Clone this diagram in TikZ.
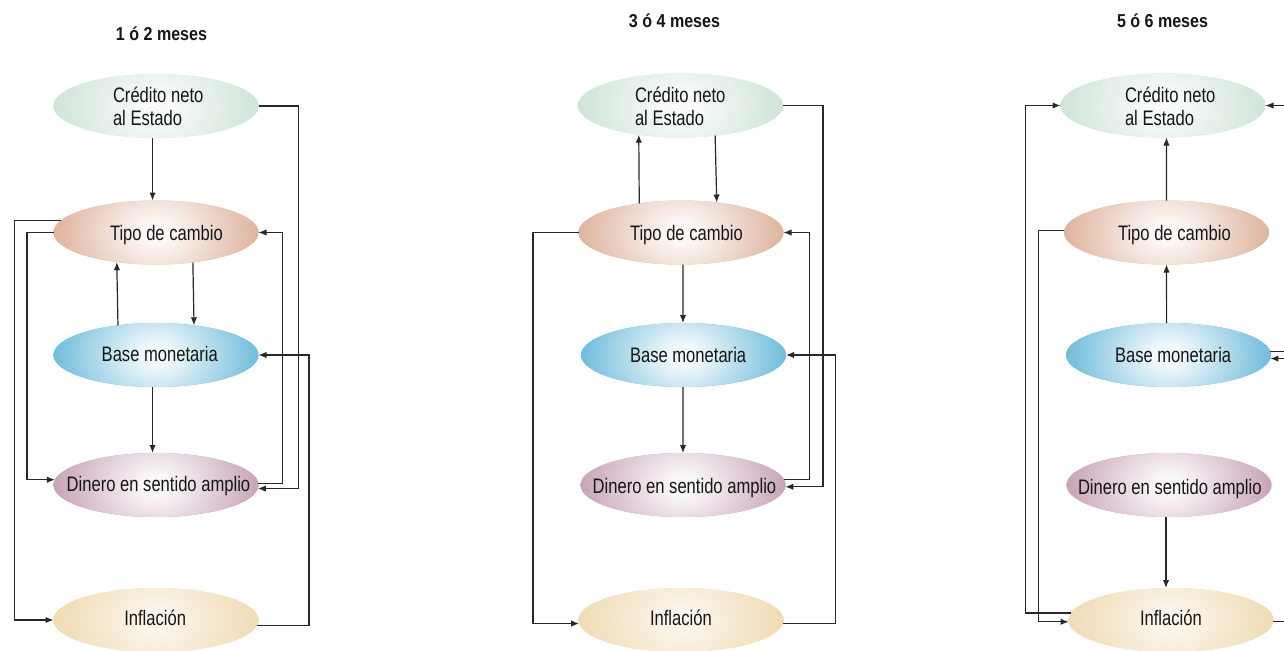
\documentclass[tikz,border=0pt]{standalone}
\usepackage{fontspec}
\setmainfont{Liberation Sans}[FakeStretch=0.79]
\newfontfamily\titlefont{Liberation Sans}[FakeStretch=0.86]
\usetikzlibrary{shapes.geometric,arrows.meta}
\definecolor{colC}{RGB}{200,224,210}
\definecolor{colT}{RGB}{217,168,142}
\definecolor{colB}{RGB}{90,178,213}
\definecolor{colD}{RGB}{191,150,172}
\definecolor{colI}{RGB}{238,215,170}
\colorlet{inC}{colC!12!white}
\colorlet{inT}{colT!8!white}
\colorlet{inB}{colB!8!white}
\colorlet{inD}{colD!8!white}
\colorlet{inI}{colI!25!white}
\definecolor{lncol}{RGB}{40,40,40}
\definecolor{txtcol}{RGB}{22,22,22}
\pgfdeclareradialshading{shC}{\pgfpoint{0bp}{0bp}}{color(0bp)=(inC); color(3bp)=(inC); color(25bp)=(colC); color(50bp)=(colC)}
\pgfdeclareradialshading{shT}{\pgfpoint{0bp}{0bp}}{color(0bp)=(inT); color(3bp)=(inT); color(25bp)=(colT); color(50bp)=(colT)}
\pgfdeclareradialshading{shB}{\pgfpoint{0bp}{0bp}}{color(0bp)=(inB); color(3bp)=(inB); color(25bp)=(colB); color(50bp)=(colB)}
\pgfdeclareradialshading{shD}{\pgfpoint{0bp}{0bp}}{color(0bp)=(inD); color(3bp)=(inD); color(25bp)=(colD); color(50bp)=(colD)}
\pgfdeclareradialshading{shI}{\pgfpoint{0bp}{0bp}}{color(0bp)=(inI); color(3bp)=(inI); color(25bp)=(colI); color(50bp)=(colI)}
\begin{document}
\begin{tikzpicture}[x=0.75pt,y=-0.75pt,
  ell/.style={ellipse, minimum width=153.75pt, minimum height=48pt, inner sep=0pt, outer sep=0pt,
    fill=col#1,
    path picture={\shade[shading=sh#1] (path picture bounding box.center) ellipse [x radius=88pt, y radius=66pt];}},
  lbl/.style={anchor=base west, inner sep=0pt, outer sep=0pt, text=txtcol, font=\fontsize{15.75pt}{19pt}\selectfont},
  ttl/.style={anchor=base, inner sep=0pt, outer sep=0pt, text=txtcol, font=\titlefont\bfseries\fontsize{14pt}{17pt}\selectfont},
  arr/.style={draw=lncol, line width=0.9pt, -{Latex[length=6pt,width=4.8pt]}}]
\useasboundingbox (0,0) rectangle (1284,650);
\clip (0,0) rectangle (1284,650);
\fill[white] (0,0) rectangle (1284,650);

% titles
\node[ttl] (h1) at (161.5,40) {1 ó 2 meses};
\node[ttl] (h2) at (674.5,27) {3 ó 4 meses};
\node[ttl] (h3) at (1162.5,27) {5 ó 6 meses};

% panel 1
\node[ell=C] (C1) at (156,106) {};
\node[ell=T] (T1) at (156,232.5) {};
\node[ell=B] (B1) at (156,355) {};
\node[ell=D] (D1) at (156,485) {};
\node[ell=I] (I1) at (156,620) {};
\node[lbl] (C1a) at (113,102) {Crédito neto};
\node[lbl] (C1b) at (113,125) {al Estado};
\node[lbl] (T1t) at (110,240) {Tipo de cambio};
\node[lbl] (B1t) at (101.7,361) {Base monetaria};
\node[lbl] (D1t) at (66.7,491) {Dinero en sentido amplio};
\node[lbl] (I1t) at (124.3,625) {Inflación};

% panel 2
\node[ell=C] (C2) at (680.5,105.5) {};
\node[ell=T] (T2) at (681,232.5) {};
\node[ell=B] (B2) at (683.5,355) {};
\node[ell=D] (D2) at (683,485) {};
\node[ell=I] (I2) at (681,620) {};
\node[lbl] (C2a) at (635,102) {Crédito neto};
\node[lbl] (C2b) at (635,125) {al Estado};
\node[lbl] (T2t) at (630,240) {Tipo de cambio};
\node[lbl] (B2t) at (630,362.5) {Base monetaria};
\node[lbl] (D2t) at (592.7,493) {Dinero en sentido amplio};
\node[lbl] (I2t) at (650,625) {Inflación};

% panel 3
\node[ell=C] (C3) at (1163,105.5) {};
\node[ell=T] (T3) at (1166.5,232.5) {};
\node[ell=B] (B3) at (1168.5,355) {};
\node[ell=D] (D3) at (1169,485) {};
\node[ell=I] (I3) at (1171,620) {};
\node[lbl] (C3a) at (1125,102) {Crédito neto};
\node[lbl] (C3b) at (1125,125) {al Estado};
\node[lbl] (T3t) at (1118,240) {Tipo de cambio};
\node[lbl] (B3t) at (1115,362.5) {Base monetaria};
\node[lbl] (D3t) at (1078,494) {Dinero en sentido amplio};
\node[lbl] (I3t) at (1140,625) {Inflación};

% connectors panel 1
\draw[arr] ([xshift=-2.6pt]C1.south) -- ([xshift=-2.6pt]T1.north);
\draw[arr] (B1.142.8) -- (T1.217.2);
\draw[arr] (T1.321.1) -- (B1.38.9);
\draw[arr] ([xshift=-2.6pt]B1.south) -- ([xshift=-2.6pt]D1.north);
\draw[arr] (C1.east) -- ++(40,0) |- (D1.358.9);
\draw[arr] (D1.1.7) -- ++(24.5,0) |- (T1.0.8);
\draw[arr] (I1.357.75) -- ++(52,0) |- (B1.0.6);
\draw[arr] (T1.173.8) -- ++(-46.2,0) |- (I1.180.6);
\draw[arr] (T1.west) -- ++(-26.5,0) |- (D1.177.75);

% connectors panel 2
\draw[arr] (T2.145.2) -- (C2.215.2);
\draw[arr] (C2.319.8) -- (T2.40.7);
\draw[arr] ([xshift=1.5pt]T2.south) -- ([xshift=-0.4pt]B2.north);
\draw[arr] ([xshift=-0.4pt]B2.south) -- (D2.north);
\draw[arr] (C2.east) -- ++(40,0) |- (D2.359.4);
\draw[arr] (D2.3.4) -- ++(25.3,0) |- (T2.east);
\draw[arr] (I2.358.9) -- ++(52.6,0) |- (B2.0.6);
\draw[arr] (T2.west) -- ++(-45.5,0) |- (I2.182.25);

% connectors panel 3
\draw[arr] (T3.north) -- ([xshift=2.6pt]C3.south);
\draw[arr] ([xshift=-1.4pt]B3.north) -- (T3.south);
\draw[arr] ([xshift=-2.25pt]D3.south) -- ([xshift=-3.75pt]I3.north);
\draw[arr] (I3.176.2) -- ++(-45.8,0) |- (C3.180.7);
\draw[arr] (T3.179) -- ++(-25.7,0) |- (I3.181.85);
\draw[arr] (B3.2.83) -- ++(35,0) |- (C3.east);
\draw[arr] (I3.359) -- ++(40,0) |- (B3.358.15);
\end{tikzpicture}
\end{document}
